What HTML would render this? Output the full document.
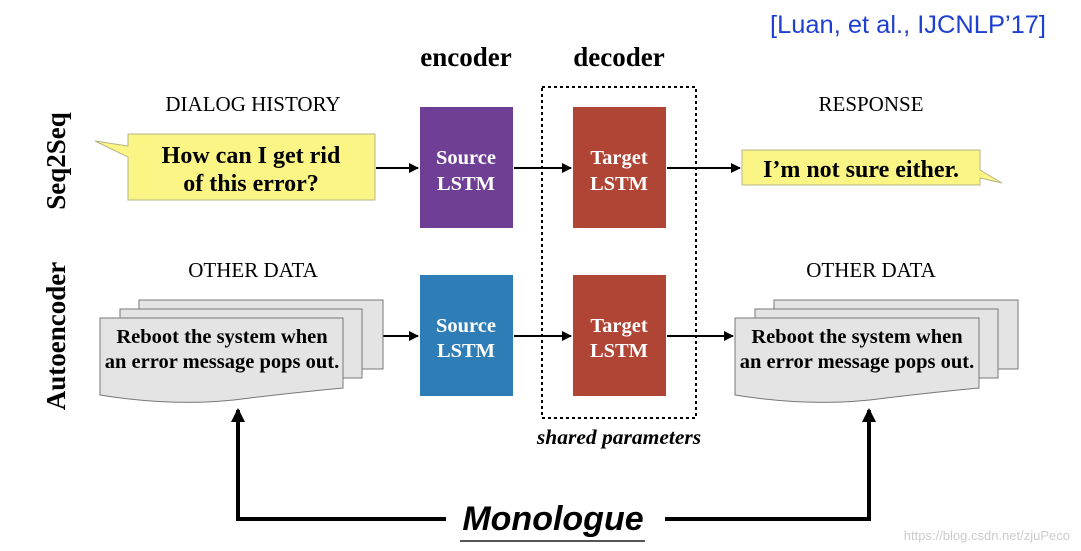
<!DOCTYPE html>
<html><head><meta charset="utf-8"><style>
html,body{margin:0;padding:0;background:#fff;}
svg{display:block;}
.t{font-family:"Liberation Serif",serif;}
</style></head><body>
<svg width="1081" height="551" viewBox="0 0 1081 551" xmlns="http://www.w3.org/2000/svg">
<defs>
<marker id="ah" markerWidth="10" markerHeight="10" refX="9" refY="5" orient="auto" markerUnits="userSpaceOnUse">
<path d="M0,0 L10,5 L0,10 Z" fill="#000"/></marker>
<marker id="ahb" markerWidth="14" markerHeight="14" refX="12" refY="7" orient="auto" markerUnits="userSpaceOnUse">
<path d="M0,0 L14,7 L0,14 Z" fill="#000"/></marker>
</defs>
<text x="1046" y="33" text-anchor="end" font-family="Liberation Sans,sans-serif" font-size="25" fill="#1f3fd0" textLength="276" lengthAdjust="spacingAndGlyphs">[Luan, et al., IJCNLP’17]</text>

<text class="t" x="466" y="66" text-anchor="middle" font-size="27" font-weight="bold">encoder</text>
<text class="t" x="619" y="66" text-anchor="middle" font-size="27" font-weight="bold">decoder</text>

<text class="t" x="253" y="111" text-anchor="middle" font-size="21">DIALOG HISTORY</text>
<text class="t" x="871" y="111" text-anchor="middle" font-size="21">RESPONSE</text>
<text class="t" x="253" y="277" text-anchor="middle" font-size="21">OTHER DATA</text>
<text class="t" x="871" y="277" text-anchor="middle" font-size="21">OTHER DATA</text>

<text class="t" transform="translate(65,161) rotate(-90)" text-anchor="middle" font-size="27" font-weight="bold">Seq2Seq</text>
<text class="t" transform="translate(65,336) rotate(-90)" text-anchor="middle" font-size="27" font-weight="bold">Autoencoder</text>

<path d="M128,134 L375,134 L375,200 L128,200 L128,157 L95,141 L128,146 Z" fill="#fbf585" stroke="#b9b38a" stroke-width="1"/>
<text class="t" x="251" y="163" text-anchor="middle" font-size="24" font-weight="bold">How can I get rid</text>
<text class="t" x="251" y="191" text-anchor="middle" font-size="24" font-weight="bold">of this error?</text>

<path d="M742,150 L980,150 L980,170 L1002,183 L980,178 L980,185 L742,185 Z" fill="#fbf585" stroke="#b9b38a" stroke-width="1"/>
<text class="t" x="861" y="177" text-anchor="middle" font-size="24" font-weight="bold">I’m not sure either.</text>

<rect x="420" y="107" width="93" height="121" fill="#6f3f95"/>
<rect x="573" y="107" width="93" height="121" fill="#b04535"/>
<rect x="420" y="275" width="93" height="121" fill="#2f7db6"/>
<rect x="573" y="275" width="93" height="121" fill="#b04535"/>
<g class="t" font-size="20.5" font-weight="bold" fill="#fff" text-anchor="middle">
<text x="466" y="164">Source</text><text x="466" y="190">LSTM</text>
<text x="619" y="164">Target</text><text x="619" y="190">LSTM</text>
<text x="466" y="332">Source</text><text x="466" y="357">LSTM</text>
<text x="619" y="332">Target</text><text x="619" y="357">LSTM</text>
</g>
<rect x="542" y="87" width="154" height="331" fill="none" stroke="#000" stroke-width="2" stroke-dasharray="3,3"/>
<text class="t" x="619" y="444" text-anchor="middle" font-size="21.5" font-weight="bold" font-style="italic">shared parameters</text>

<g stroke="#000" stroke-width="2" fill="none">
<line x1="376" y1="168" x2="418" y2="168" marker-end="url(#ah)"/>
<line x1="514" y1="168" x2="571" y2="168" marker-end="url(#ah)"/>
<line x1="667" y1="168" x2="740" y2="168" marker-end="url(#ah)"/>
<line x1="383" y1="336" x2="418" y2="336" marker-end="url(#ah)"/>
<line x1="514" y1="336" x2="571" y2="336" marker-end="url(#ah)"/>
<line x1="667" y1="336" x2="733" y2="336" marker-end="url(#ah)"/>
</g>

<g fill="#e4e4e4" stroke="#777" stroke-width="1">
<rect x="139" y="300" width="244" height="69"/>
<rect x="120" y="309" width="242" height="69"/>
<path d="M100,318 L343,318 L343,388 Q300,392 250,398 Q180,408 100,395 Z"/>
<rect x="774" y="300" width="244" height="69"/>
<rect x="755" y="309" width="243" height="69"/>
<path d="M735,318 L979,318 L979,388 Q936,392 886,398 Q816,408 735,395 Z"/>
</g>
<g class="t" font-size="20.5" font-weight="bold" text-anchor="middle">
<text x="222" y="343">Reboot the system when</text>
<text x="222" y="368">an error message pops out.</text>
<text x="857" y="343">Reboot the system when</text>
<text x="857" y="368">an error message pops out.</text>
</g>

<g stroke="#000" stroke-width="4" fill="none">
<polyline points="446,519 238,519 238,410" marker-end="url(#ahb)"/>
<polyline points="665,519 869,519 869,410" marker-end="url(#ahb)"/>
</g>
<text x="553" y="530" text-anchor="middle" font-family="Liberation Sans,sans-serif" font-size="34" font-weight="bold" font-style="italic">Monologue</text>
<line x1="460" y1="541" x2="645" y2="541" stroke="#555" stroke-width="2"/>
<text x="1070" y="540" text-anchor="end" font-family="Liberation Sans,sans-serif" font-size="13" fill="#ccc">https://blog.csdn.net/zjuPeco</text>
</svg>
</body></html>
